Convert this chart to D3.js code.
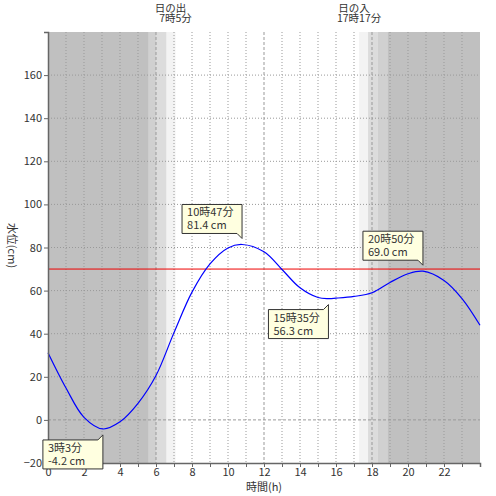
<!DOCTYPE html>
<html>
<head>
<meta charset="utf-8">
<script src="https://cdn.jsdelivr.net/npm/d3@7"></script>
<style>
  body { margin: 0; background: #fff; }
  text { font-family: "Noto Sans CJK JP", "DejaVu Sans", sans-serif; }
</style>
</head>
<body>
<div id="chart"></div>
<script>
// tide level readings (hour of day, cm)
const hours  = [0, 1, 2, 3.05, 4, 5, 6, 7, 8, 9, 10, 10.78, 12, 13, 14, 15, 15.58, 16, 17, 18, 19, 20, 20.83, 22, 23, 24];
const levels = [31.2, 14.8, 1.2, -4.2, -0.9, 7.7, 20.6, 40.5, 59.3, 72.4, 79.8, 81.4, 78.0, 69.8, 61.3, 56.8, 56.3, 56.5, 57.3, 59.0, 63.8, 67.8, 69.0, 64.7, 56.3, 43.9];

// high / low tide callouts
const peakHours  = [3.05, 10.78, 15.58, 20.83];
const peakLevels = [-4.2, 81.4, 56.3, 69.0];
const peakTimes  = ["3時3分", "10時47分", "15時35分", "20時50分"];
const peakKinds  = ["low", "high", "low", "high"];

// twilight bands (start hour, end hour), darkest = night
const bandStart = [0, 5.6, 6.04, 6.59, 17.283, 17.78, 18.3, 18.85];
const bandEnd   = [5.6, 6.04, 6.59, 7.083, 17.78, 18.3, 18.85, 24];
const bandLevel = [0, 1, 2, 3, 3, 2, 1, 0];

const sunHours  = [7.083, 17.283];
const sunNames  = ["日の出", "日の入"];
const sunTimes  = ["7時5分", "17時17分"];

const refLevel = 70;
const yTicks = [-20, 0, 20, 40, 60, 80, 100, 120, 140, 160];
const xLabels = [0, 2, 4, 6, 8, 10, 12, 14, 16, 18, 20, 22];

const margin = {top: 32, right: 16, bottom: 33, left: 48};
const width = 496 - margin.left - margin.right;
const height = 496 - margin.top - margin.bottom;
const shade = ["#c0c0c0", "#d0d0d0", "#dcdcdc", "#f3f3f3"];
const font = "Noto Sans CJK JP, DejaVu Sans, sans-serif";

const svg = d3.select("#chart")
    .append("svg")
    .attr("width", 496)
    .attr("height", 496)
    .append("g")
    .attr("transform", `translate(${margin.left},${margin.top})`);

const x = d3.scaleLinear().domain([0, 24]).range([0, width]);
const y = d3.scaleLinear().domain([-20, 180]).range([height, 0]);

// night / twilight shading
svg.selectAll("rect.band")
    .data(bandStart)
    .join("rect")
    .attr("class", "band")
    .attr("x", d => x(d))
    .attr("y", 0)
    .attr("width", (d, i) => x(bandEnd[i]) - x(d))
    .attr("height", height)
    .attr("fill", (d, i) => shade[bandLevel[i]]);

// grid
svg.selectAll("line.vgrid")
    .data(d3.range(1, 24))
    .join("line")
    .attr("x1", d => x(d)).attr("x2", d => x(d))
    .attr("y1", 0).attr("y2", height)
    .attr("stroke", "#999")
    .attr("stroke-width", 1)
    .attr("stroke-dasharray", d => d % 6 === 0 ? "3,2" : "1,2");

svg.selectAll("line.hgrid")
    .data(yTicks.filter(d => d >= 0))
    .join("line")
    .attr("x1", 0).attr("x2", width)
    .attr("y1", d => y(d)).attr("y2", d => y(d))
    .attr("stroke", "#999")
    .attr("stroke-width", 1)
    .attr("stroke-dasharray", d => d === 0 ? "3,2" : "1,2");

// reference level
svg.append("line")
    .attr("x1", 0).attr("x2", width)
    .attr("y1", y(refLevel)).attr("y2", y(refLevel))
    .attr("stroke", "#ee0000")
    .attr("stroke-width", 1);

// tide curve
const line = d3.line()
    .x((d, i) => x(hours[i]))
    .y(d => y(d))
    .curve(d3.curveCatmullRom.alpha(0.5));

svg.append("path")
    .datum(levels)
    .attr("fill", "none")
    .attr("stroke", "#0000ff")
    .attr("stroke-width", 1.2)
    .attr("d", line);

// axes
const yAxis = svg.append("g")
    .call(d3.axisLeft(y).tickValues(yTicks).tickSize(4).tickPadding(2));
const xAxis = svg.append("g")
    .attr("transform", `translate(0,${height})`)
    .call(d3.axisBottom(x).tickValues(d3.range(0, 24)).tickSize(4).tickPadding(1)
        .tickFormat(d => xLabels.includes(d) ? d : ""));

[yAxis, xAxis].forEach(a => {
    a.select(".domain").attr("stroke", "#666").attr("stroke-width", 1.5);
    a.selectAll(".tick line").attr("stroke", "#666");
    a.selectAll(".tick text")
        .attr("fill", "#333")
        .attr("font-size", "11px")
        .attr("font-family", font);
});

// axis titles
svg.append("text")
    .attr("x", width / 2)
    .attr("y", height + 28)
    .attr("text-anchor", "middle")
    .attr("fill", "#333")
    .attr("font-size", "11px")
    .text("時間(h)");

svg.append("text")
    .attr("transform", "rotate(90)")
    .attr("x", height / 2 - 2)
    .attr("y", 40)
    .attr("text-anchor", "middle")
    .attr("fill", "#333")
    .attr("font-size", "11px")
    .text("水位(cm)");

// sunrise / sunset labels (two lines in one text)
sunHours.forEach((h, i) => {
    const t = svg.append("text")
        .attr("y", -20.5)
        .attr("text-anchor", "middle")
        .attr("fill", "#333")
        .attr("font-size", "10.5px");
    t.append("tspan")
        .attr("x", x(h) - 5)
        .text(sunNames[i]);
    t.append("tspan")
        .attr("x", x(h))
        .attr("dy", 10.5)
        .text(sunTimes[i]);
});

// callouts
const boxW = 60, boxH = 29, gap = 6, tail = 5;
peakHours.forEach((h, i) => {
    const px = x(h), py = y(peakLevels[i]);
    const high = peakKinds[i] === "high";
    const tipY = high ? py - gap : py + gap;
    const top = high ? tipY - tail - boxH : tipY + tail;
    const left = px - boxW;
    const bot = top + boxH;
    let path;
    if (high) {
        path = `M${left},${top}H${px}V${tipY}L${px - tail},${bot}H${left}Z`;
    } else {
        path = `M${left},${top}H${px - tail}L${px},${tipY}V${bot}H${left}Z`;
    }
    svg.append("path")
        .attr("d", path)
        .attr("fill", "#ffffe0")
        .attr("stroke", "#333")
        .attr("stroke-width", 1);
    const t = svg.append("text")
        .attr("y", top + 12)
        .attr("fill", "#333")
        .attr("font-size", "11px");
    t.append("tspan")
        .attr("x", left + 5)
        .text(peakTimes[i]);
    t.append("tspan")
        .attr("x", left + 5)
        .attr("dy", 13)
        .text(peakLevels[i].toFixed(1) + " cm");
});
</script>
</body>
</html>
